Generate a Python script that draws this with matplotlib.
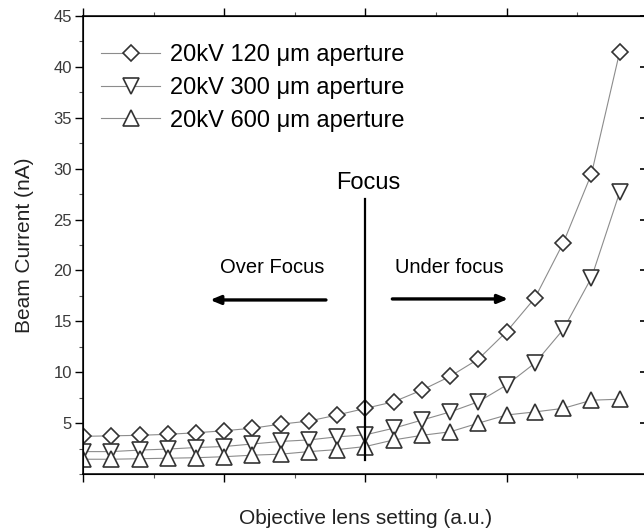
import matplotlib
matplotlib.use("Agg")
import matplotlib.pyplot as plt
from matplotlib.ticker import MultipleLocator

plt.rcParams['font.family'] = ['Liberation Sans', 'DejaVu Sans']

# ── data ─────────────────────────────────────────────
lens_setting = [0.0, 0.2, 0.4, 0.6, 0.8, 1.0, 1.2, 1.4, 1.6, 1.8,
                2.0, 2.2, 2.4, 2.6, 2.8, 3.0, 3.2, 3.4, 3.6, 3.8]
current_120 = [3.7, 3.75, 3.8, 3.9, 4.05, 4.25, 4.5, 4.9, 5.2, 5.8,
               6.45, 7.1, 8.25, 9.6, 11.3, 14.0, 17.3, 22.7, 29.5, 41.5]
current_300 = [2.2, 2.2, 2.35, 2.45, 2.6, 2.7, 2.95, 3.2, 3.35, 3.65,
               3.85, 4.5, 5.3, 6.1, 7.1, 8.75, 10.9, 14.2, 19.3, 27.7]
current_600 = [1.45, 1.45, 1.5, 1.55, 1.6, 1.7, 1.85, 1.95, 2.2, 2.4,
               2.7, 3.35, 3.8, 4.15, 5.0, 5.8, 6.1, 6.45, 7.25, 7.35]
labels = ["20kV 120 μm aperture", "20kV 300 μm aperture", "20kV 600 μm aperture"]
y_ticks = [5, 10, 15, 20, 25, 30, 35, 40, 45]
focus_x = 2.0

# ── figure ───────────────────────────────────────────
fig = plt.figure(figsize=(6.44, 5.32), dpi=100)
ax = fig.add_axes([83 / 644, 58 / 532, 565 / 644, 458 / 532])

line_kw = dict(color='#8c8c8c', lw=0.8, mfc='white', mec='#333333', mew=1.2)
ax.plot(lens_setting, current_120, marker='D', ms=8.5, label=labels[0], **line_kw)
ax.plot(lens_setting, current_300, marker='v', ms=12, label=labels[1], **line_kw)
ax.plot(lens_setting, current_600, marker='^', ms=12, label=labels[2], **line_kw)

ax.set_xlim(0, 4)
ax.set_ylim(0, 45)
ax.set_yticks(y_ticks)
ax.yaxis.set_minor_locator(MultipleLocator(2.5))
ax.xaxis.set_major_locator(MultipleLocator(1))
ax.xaxis.set_minor_locator(MultipleLocator(0.5))
ax.set_xticklabels([])

ax.tick_params(axis='both', which='major', length=6, width=1.0, color='black')
ax.tick_params(axis='both', which='minor', length=3, width=0.8, color='#555555')
ax.tick_params(axis='x', which='both', direction='out', top=True, bottom=True)
ax.tick_params(axis='y', which='both', direction='out', left=True)
ax.tick_params(axis='y', labelsize=12, labelcolor='#3a3a3a', pad=2)
for side in ['top', 'bottom', 'left', 'right']:
    ax.spines[side].set_linewidth(1.1)

# right side ticks point inward
ax2 = ax.twinx()
ax2.set_ylim(0, 45)
ax2.set_yticks(y_ticks)
ax2.yaxis.set_minor_locator(MultipleLocator(2.5))
ax2.tick_params(axis='y', which='major', direction='in', length=6, width=1.2, labelright=False)
ax2.tick_params(axis='y', which='minor', direction='in', length=3, width=0.8,
                color='#555555', labelright=False)

ax.set_ylabel("Beam Current (nA)", fontsize=15, color='#222222', labelpad=14)
ax.set_xlabel("Objective lens setting (a.u.)", fontsize=15, color='#222222', labelpad=16)

# focus marker and direction arrows
ax.plot([focus_x, focus_x], [1.4, 27.0], color='black', lw=1.6, clip_on=False)
ax.text(2.02, 28.6, "Focus", fontsize=17, ha='center', va='center')
ax.text(1.34, 20.3, "Over Focus", fontsize=14.5, ha='center', va='center')
ax.text(2.59, 20.3, "Under focus", fontsize=14.5, ha='center', va='center')
arrow_kw = dict(arrowstyle='-|>,head_length=0.6,head_width=0.25', color='black', lw=2.4,
                shrinkA=0, shrinkB=0)
ax.annotate("", xy=(0.9, 17.1), xytext=(1.72, 17.1), arrowprops=arrow_kw)
ax.annotate("", xy=(3.01, 17.2), xytext=(2.19, 17.2), arrowprops=arrow_kw)

ax.legend(loc='upper left', bbox_to_anchor=(0.032, 0.938), frameon=False,
          fontsize=17, handlelength=2.5, handletextpad=0.42, labelspacing=0.45,
          borderpad=0, borderaxespad=0)

fig.savefig("out.png", dpi=100)
